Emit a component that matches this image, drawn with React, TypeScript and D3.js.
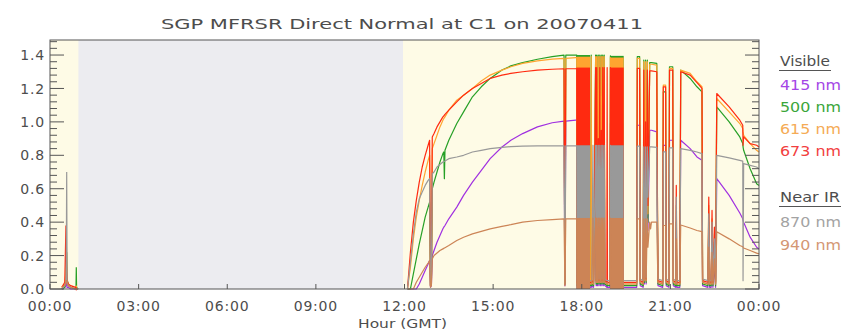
import React from 'react';
import * as d3 from 'd3';

const WIDTH = 859;
const HEIGHT = 331;
const PLOT = { left: 50, right: 759, top: 40, bottom: 289 };

// Axis ticks
const hourTicks = [0, 3, 6, 9, 12, 15, 18, 21, 24];
const hourLabels = ['00:00', '03:00', '06:00', '09:00', '12:00', '15:00', '18:00', '21:00', '00:00'];
const valueTicks = [0, 0.2, 0.4, 0.6, 0.8, 1.0, 1.2, 1.4];
const valueLabels = ['0.0', '0.2', '0.4', '0.6', '0.8', '1.0', '1.2', '1.4'];

// Night (sun below horizon) shading, hours GMT
const nightHours = [0.96, 11.95];

// Intervals of rapid cloud flicker, drawn as filled min-max spans
const denseSpans = [
  [17.83, 18.28],
  [18.97, 19.42],
];

// Pre-dawn glints shortly after 00:00
const dawnHours = [0.4, 0.5, 0.54, 0.55, 0.565, 0.58, 0.62, 0.7, 0.86, 0.88, 0.89, 0.9, 0.95];
const dawn415 = [0, 0.01, 0.02, 0.04, 0.03, 0.01, 0.01, 0, 0, 0, 0, 0, 0];
const dawn500 = [0, 0.01, 0.05, 0.12, 0.22, 0.06, 0.02, 0.01, 0, 0.01, 0.13, 0.01, 0];
const dawn615 = [0.01, 0.03, 0.1, 0.3, 0.18, 0.05, 0.03, 0.01, 0, 0, 0.02, 0, 0];
const dawn673 = [0.01, 0.04, 0.38, 0.2, 0.1, 0.05, 0.03, 0.02, 0.01, 0, 0.01, 0, 0];
const dawn870 = [0, 0.02, 0.05, 0.1, 0.7, 0.04, 0.02, 0.01, 0, 0, 0, 0, 0];
const dawn940 = [0.01, 0.02, 0.04, 0.05, 0.05, 0.03, 0.02, 0.01, 0, 0, 0, 0, 0];

// Morning rise, mostly clear sky
const riseHours = [
  12.1, 12.2, 12.3, 12.4, 12.5, 12.6, 12.7, 12.8, 12.85, 12.88, 12.91, 12.94, 13.0, 13.1, 13.2, 13.3, 13.33,
  13.35, 13.37, 13.5, 13.77, 14.0, 14.3, 14.6, 14.9, 15.3, 15.6, 16.0, 16.5, 17.0, 17.4, 17.43, 17.46, 17.8,
];
const rise415 = [
  0, 0, 0, 0, 0.03, 0.07, 0.11, 0.15, 0.17, 0.01, 0.02, 0.2, 0.23, 0.28, 0.32, 0.36, 0.37, 0.375, 0.38, 0.42,
  0.49, 0.56, 0.64, 0.71, 0.78, 0.85, 0.89, 0.93, 0.97, 0.995, 1.005, 0.02, 1.005, 1.01,
];
const rise500 = [
  0, 0, 0.09, 0.18, 0.27, 0.35, 0.43, 0.49, 0.52, 0.02, 0.04, 0.6, 0.64, 0.7, 0.76, 0.81, 0.82, 0.66, 0.83, 0.89,
  0.99, 1.06, 1.15, 1.21, 1.26, 1.31, 1.335, 1.355, 1.375, 1.39, 1.4, 0.03, 1.4, 1.4,
];
const rise615 = [
  0, 0.13, 0.3, 0.43, 0.53, 0.62, 0.7, 0.77, 0.8, 0.02, 0.04, 0.84, 0.87, 0.92, 0.97, 1.01, 1.02, 1.025, 1.03,
  1.07, 1.13, 1.16, 1.2, 1.245, 1.28, 1.31, 1.33, 1.35, 1.365, 1.375, 1.38, 0.03, 1.38, 1.385,
];
const rise673 = [
  0, 0.22, 0.4, 0.53, 0.64, 0.73, 0.8, 0.86, 0.89, 0.02, 0.05, 0.91, 0.93, 0.97, 1.0, 1.03, 1.035, 1.04, 1.045,
  1.07, 1.12, 1.16, 1.2, 1.23, 1.26, 1.28, 1.29, 1.3, 1.31, 1.315, 1.318, 0.03, 1.318, 1.318,
];
const rise870 = [
  0, 0.16, 0.33, 0.46, 0.54, 0.58, 0.62, 0.65, 0.66, 0.02, 0.04, 0.69, 0.7, 0.73, 0.745, 0.76, 0.762, 0.764,
  0.766, 0.78, 0.79, 0.8, 0.82, 0.83, 0.84, 0.848, 0.852, 0.855, 0.856, 0.856, 0.856, 0.03, 0.856, 0.856,
];
const rise940 = [
  0, 0, 0, 0.04, 0.07, 0.1, 0.13, 0.155, 0.17, 0.01, 0.02, 0.18, 0.2, 0.215, 0.23, 0.24, 0.243, 0.245, 0.247,
  0.26, 0.29, 0.31, 0.33, 0.345, 0.36, 0.375, 0.385, 0.4, 0.41, 0.415, 0.42, 0.02, 0.42, 0.42,
];

// Afternoon with broken cloud
const cloudHours = [
  17.83, 17.85, 18.26, 18.3, 18.32, 18.34, 18.38, 18.4, 18.47, 18.49, 18.51, 18.53, 18.56, 18.58, 18.61, 18.63,
  18.66, 18.68, 18.71, 18.73, 18.76, 18.78, 18.85, 18.86, 18.87, 18.95, 18.97, 18.99, 19.86, 19.88, 19.96, 19.98,
  20.08, 20.1, 20.12, 20.16, 20.18, 20.22, 20.24, 20.3, 20.33, 20.36, 20.54, 20.56, 20.58, 20.74, 20.76, 20.84,
  20.86, 20.95, 20.97, 21.08, 21.1, 21.18, 21.2, 21.22, 21.32, 21.35, 21.67, 21.9, 22.07, 22.09, 22.27, 22.3,
  22.33, 22.38, 22.41, 22.44, 22.49, 22.53, 22.57, 22.99, 23.35, 23.45, 23.46, 23.48, 23.7, 23.92, 24.0,
];
const cloud415 = [
  1.01, 0.01, 0.01, 0.01, 0.02, 0.01, 0.02, 0.01, 1.0, 0.02, 1.0, 0.02, 1.0, 0.02, 1.0, 0.02,
  1.0, 0.02, 1.0, 0.02, 1.0, 0.02, 0.01, 0.02, 0.01, 0.01, 0.99, 0.01, 0.01, 0.98, 0.98, 0.02,
  0.01, 0.96, 0.03, 0.96, 0.03, 0.96, 0.35, 0.95, 0.95, 0.95, 0.94, 0.4, 0.02, 0.01, 0.86, 0.86,
  0.02, 0.01, 0.89, 0.89, 0.02, 0.01, 0.25, 0.01, 0.01, 0.89, 0.84, 0.79, 0.77, 0.02, 0.01, 0.2,
  0.01, 0.01, 0.18, 0.01, 0.14, 0.01, 0.66, 0.56, 0.455, 0.42, 0.41, 0.4, 0.31, 0.25, 0.24,
];
const cloud500 = [
  1.4, 0.02, 0.02, 0.02, 1.4, 0.02, 0.03, 0.02, 1.4, 0.03, 1.4, 0.03, 1.4, 0.03, 1.4, 0.03,
  1.4, 0.03, 1.4, 0.03, 1.4, 0.03, 0.02, 0.03, 0.02, 0.02, 1.395, 0.02, 0.02, 1.39, 1.39, 0.03,
  0.02, 1.37, 0.04, 1.37, 0.04, 1.37, 0.4, 1.355, 1.355, 1.355, 1.35, 0.5, 0.03, 0.02, 1.18, 1.18,
  0.03, 0.02, 1.33, 1.33, 0.03, 0.02, 0.4, 0.02, 0.02, 1.31, 1.26, 1.21, 1.18, 0.03, 0.02, 0.4,
  0.02, 0.02, 0.35, 0.02, 0.28, 0.02, 1.09, 1.0, 0.91, 0.87, 0.85, 0.83, 0.72, 0.63, 0.62,
];
const cloud615 = [
  1.385, 0.03, 0.03, 0.03, 1.39, 0.03, 0.04, 0.03, 1.39, 0.04, 1.39, 0.04, 1.39, 0.04, 1.39, 0.04,
  1.39, 0.04, 1.39, 0.04, 1.39, 0.04, 0.03, 0.04, 0.03, 0.03, 1.385, 0.03, 0.03, 1.38, 1.38, 0.04,
  0.03, 1.36, 0.05, 1.36, 0.05, 1.36, 0.45, 1.345, 1.345, 1.345, 1.34, 0.6, 0.04, 0.03, 1.22, 1.22,
  0.04, 0.03, 1.32, 1.32, 0.04, 0.03, 0.5, 0.03, 0.03, 1.31, 1.29, 1.24, 1.21, 0.04, 0.03, 0.5,
  0.03, 0.03, 0.42, 0.03, 0.33, 0.03, 1.14, 1.06, 0.99, 0.96, 0.94, 0.92, 0.87, 0.83, 0.82,
];
const cloud673 = [
  1.32, 0.04, 0.04, 0.04, 0.04, 0.04, 0.05, 0.04, 1.325, 0.05, 1.325, 0.05, 0.9, 0.05, 1.325, 0.05,
  0.95, 0.05, 1.325, 0.05, 1.325, 0.05, 0.04, 1.325, 0.04, 0.04, 1.325, 0.04, 0.04, 1.32, 1.32, 0.05,
  0.04, 1.31, 0.06, 1.0, 0.06, 1.31, 0.5, 1.305, 1.305, 1.305, 1.3, 0.6, 0.05, 0.04, 1.21, 1.21,
  0.05, 0.04, 1.31, 1.31, 0.05, 0.04, 0.62, 0.04, 0.04, 1.3, 1.28, 1.235, 1.2, 0.05, 0.04, 0.55,
  0.04, 0.04, 0.47, 0.04, 0.37, 0.04, 1.17, 1.09, 1.01, 0.98, 0.86, 0.91, 0.87, 0.86, 0.85,
];
const cloud870 = [
  0.856, 0.05, 0.05, 0.05, 0.05, 0.05, 0.86, 0.05, 0.86, 0.06, 0.86, 0.06, 0.86, 0.06, 0.86, 0.06,
  0.86, 0.06, 0.86, 0.06, 0.86, 0.06, 0.05, 0.05, 0.05, 0.05, 0.86, 0.05, 0.05, 0.855, 0.855, 0.06,
  0.05, 0.85, 0.07, 0.85, 0.07, 0.85, 0.55, 0.85, 0.85, 0.85, 0.848, 0.4, 0.06, 0.05, 0.82, 0.82,
  0.06, 0.05, 0.845, 0.845, 0.06, 0.05, 0.55, 0.05, 0.05, 0.84, 0.83, 0.82, 0.81, 0.06, 0.05, 0.45,
  0.05, 0.05, 0.4, 0.05, 0.3, 0.05, 0.8, 0.785, 0.77, 0.765, 0.05, 0.75, 0.74, 0.73, 0.72,
];
const cloud940 = [
  0.42, 0.03, 0.03, 0.03, 0.03, 0.03, 0.425, 0.03, 0.425, 0.04, 0.425, 0.04, 0.425, 0.04, 0.425, 0.04,
  0.425, 0.04, 0.425, 0.04, 0.425, 0.04, 0.03, 0.04, 0.03, 0.03, 0.425, 0.03, 0.03, 0.42, 0.42, 0.04,
  0.03, 0.42, 0.05, 0.42, 0.05, 0.42, 0.25, 0.4, 0.36, 0.4, 0.4, 0.2, 0.04, 0.03, 0.38, 0.38,
  0.04, 0.03, 0.39, 0.39, 0.04, 0.03, 0.3, 0.03, 0.03, 0.383, 0.365, 0.35, 0.343, 0.04, 0.03, 0.25,
  0.03, 0.03, 0.22, 0.03, 0.18, 0.03, 0.343, 0.3, 0.26, 0.253, 0.25, 0.245, 0.23, 0.215, 0.21,
];

// Upper edge of each filled flicker span, one per entry of denseSpans
const span415 = [1.01, 0.99];
const span500 = [1.4, 1.395];
const span615 = [1.39, 1.385];
const span673 = [1.325, 1.325];
const span870 = [0.86, 0.86];
const span940 = [0.425, 0.425];

const channelNames = ['415 nm', '500 nm', '615 nm', '673 nm', '870 nm', '940 nm'];
const channelColors = ['#a030e0', '#26a026', '#ffa530', '#ff2a10', '#999999', '#cc8456'];
const legendColors = ['#a445e6', '#3aa63a', '#f5ab55', '#f24040', '#a3a3a3', '#d49774'];

const channels = [
  { dawn: dawn415, rise: rise415, cloud: cloud415, span: span415 },
  { dawn: dawn500, rise: rise500, cloud: cloud500, span: span500 },
  { dawn: dawn615, rise: rise615, cloud: cloud615, span: span615 },
  { dawn: dawn673, rise: rise673, cloud: cloud673, span: span673 },
  { dawn: dawn870, rise: rise870, cloud: cloud870, span: span870 },
  { dawn: dawn940, rise: rise940, cloud: cloud940, span: span940 },
].map((c, i) => ({ ...c, name: channelNames[i], color: channelColors[i], legend: legendColors[i] }));

const FONT = '"DejaVu Sans", Verdana, sans-serif';
const TEXT = '#4d4d4d';

export default function App() {
  const x = d3.scaleLinear().domain([0, 24]).range([PLOT.left, PLOT.right]);
  const y = d3.scaleLinear().domain([0, 1.49]).range([PLOT.bottom, PLOT.top]);

  const line = d3
    .line<[number, number]>()
    .x((d) => x(d[0]))
    .y((d) => y(d[1]));

  const pair = (hours: number[], vals: number[]) => hours.map((h, i) => [h, vals[i]] as [number, number]);

  const minorTicks = d3.range(0, 1.49, 0.04);

  const legendRows = [
    { kind: 'head', text: 'Visible', y: 66 },
    { kind: 'item', idx: 0, y: 90 },
    { kind: 'item', idx: 1, y: 112 },
    { kind: 'item', idx: 2, y: 134 },
    { kind: 'item', idx: 3, y: 156 },
    { kind: 'head', text: 'Near IR', y: 202 },
    { kind: 'item', idx: 4, y: 227 },
    { kind: 'item', idx: 5, y: 250 },
  ];

  return (
    <svg
      width={WIDTH}
      height={HEIGHT}
      style={{ position: 'absolute', left: 0, top: 0, background: '#ffffff' }}
      fontFamily={FONT}
    >
      {/* plot background: daylight and night */}
      <rect x={PLOT.left} y={PLOT.top} width={PLOT.right - PLOT.left} height={PLOT.bottom - PLOT.top} fill="#fefbe6" />
      <rect
        x={x(nightHours[0])}
        y={PLOT.top}
        width={x(nightHours[1]) - x(nightHours[0])}
        height={PLOT.bottom - PLOT.top}
        fill="#ececf0"
      />

      {/* channels */}
      <g>
        {channels.map((c) => (
          <g key={c.name}>
            {denseSpans.map((s, i) => (
              <rect
                key={i}
                x={x(s[0])}
                width={x(s[1]) - x(s[0])}
                y={y(c.span[i])}
                height={y(0) - y(c.span[i])}
                fill={c.color}
              />
            ))}
            <path d={line(pair(dawnHours, c.dawn)) ?? ''} fill="none" stroke={c.color} strokeWidth={1.2} />
            <path
              d={line([...pair(riseHours, c.rise), ...pair(cloudHours, c.cloud)]) ?? ''}
              fill="none"
              stroke={c.color}
              strokeWidth={1.2}
              strokeLinejoin="round"
            />
          </g>
        ))}
      </g>

      {/* frame */}
      <rect
        x={PLOT.left}
        y={PLOT.top}
        width={PLOT.right - PLOT.left}
        height={PLOT.bottom - PLOT.top}
        fill="none"
        stroke="#555"
        strokeWidth={1}
      />

      {/* y ticks, both sides */}
      {minorTicks.map((v, i) => {
        const major = i % 5 === 0;
        const len = major ? 14 : 7;
        return (
          <g key={i} stroke="#555" strokeWidth={1}>
            <line x1={PLOT.left} x2={PLOT.left + len} y1={y(v)} y2={y(v)} />
            <line x1={PLOT.right} x2={PLOT.right - len} y1={y(v)} y2={y(v)} />
          </g>
        );
      })}
      {valueTicks.map((v, i) => (
        <text
          key={v}
          x={PLOT.left - 5}
          y={y(v)}
          dy="0.36em"
          textAnchor="end"
          fontSize={14}
          letterSpacing={0.8}
          fill={TEXT}
        >
          {valueLabels[i]}
        </text>
      ))}

      {/* x ticks */}
      {hourTicks.map((h, i) => (
        <g key={i}>
          <line x1={x(h)} x2={x(h)} y1={PLOT.bottom} y2={PLOT.bottom - 5} stroke="#555" />
          <text x={x(h)} y={311} textAnchor="middle" fontSize={14} letterSpacing={0.8} fill={TEXT}>
            {hourLabels[i]}
          </text>
        </g>
      ))}
      <text x={358} y={327.5} fontSize={12.5} textLength={89} lengthAdjust="spacingAndGlyphs" fill={TEXT}>
        Hour (GMT)
      </text>

      {/* title */}
      <text x={161} y={29} fontSize={14.5} textLength={482} lengthAdjust="spacingAndGlyphs" fill={TEXT}>
        SGP MFRSR Direct Normal at C1 on 20070411
      </text>

      {/* legend */}
      {legendRows.map((r, i) =>
        r.kind === 'head' ? (
          <g key={i}>
            <text
              x={780}
              y={r.y}
              fontSize={14}
              textLength={r.text === 'Visible' ? 50 : 60}
              lengthAdjust="spacingAndGlyphs"
              fill={TEXT}
            >
              {r.text}
            </text>
            <line
              x1={779}
              x2={r.text === 'Visible' ? 831 : 841}
              y1={r.y + 4.5}
              y2={r.y + 4.5}
              stroke="#555"
              strokeWidth={1.2}
            />
          </g>
        ) : (
          <text
            key={i}
            x={780}
            y={r.y}
            fontSize={14}
            textLength={61}
            lengthAdjust="spacingAndGlyphs"
            fill={channels[r.idx as number].legend}
          >
            {channels[r.idx as number].name}
          </text>
        )
      )}
    </svg>
  );
}
